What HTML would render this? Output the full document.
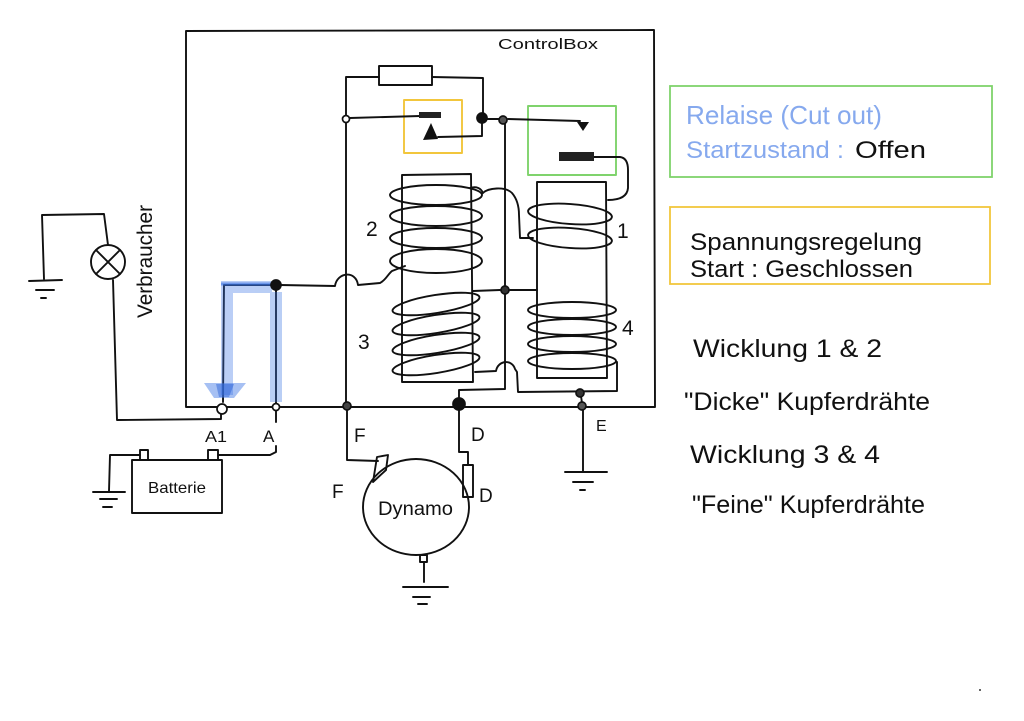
<!DOCTYPE html>
<html><head><meta charset="utf-8"><style>
html,body{margin:0;padding:0;background:#fff;}
svg{display:block;}
text{font-family:"Liberation Sans",sans-serif;}
</style></head><body>
<svg width="1024" height="721" viewBox="0 0 1024 721" xmlns="http://www.w3.org/2000/svg">
<rect width="1024" height="721" fill="#fff"/>
<g fill="none" stroke="#111" stroke-width="1.9" stroke-linecap="round" stroke-linejoin="round">
<!-- control box -->
<path d="M186 31 L654 30 L655 407 L186 407 Z"/>
<!-- resistor -->
<rect x="379" y="66" width="53" height="19"/>
<path d="M346 407 L346 77 L379 77"/>
<path d="M432 77 L483 78 L483 114"/>
<!-- yellow box -->
<rect x="404" y="100" width="58" height="53" stroke="#f2c63c"/>
<path d="M350 118 L420 116"/>
<path d="M438 137 L482 136 L482 122"/>
<!-- green box -->
<rect x="528" y="106" width="88" height="69" stroke="#7fd36c"/>
<path d="M487 119 L499 119"/>
<path d="M508 119 L580 121"/>
<path d="M594 157 L620 157 Q628 158 628 170 L628 188 Q627 200 608 200"/>
<!-- middle vertical -->
<path d="M505 123 L505 389 L459 390 L459 400"/>
<!-- coils -->
<path d="M402 175 L471 174 L473 382 L402 382 Z"/>
<path d="M537 182 L606 182 L607 378 L537 378 Z"/>
<ellipse cx="436" cy="195" rx="46" ry="10"/>
<ellipse cx="436" cy="216" rx="46" ry="10"/>
<ellipse cx="436" cy="238" rx="46" ry="10"/>
<ellipse cx="436" cy="261" rx="46" ry="12"/>
<ellipse cx="436" cy="304" rx="44" ry="9" transform="rotate(-9 436 304)"/>
<ellipse cx="436" cy="324" rx="44" ry="9" transform="rotate(-9 436 324)"/>
<ellipse cx="436" cy="344" rx="44" ry="9" transform="rotate(-9 436 344)"/>
<ellipse cx="436" cy="364" rx="44" ry="9" transform="rotate(-9 436 364)"/>
<ellipse cx="570" cy="214" rx="42" ry="10" transform="rotate(4 570 214)"/>
<ellipse cx="570" cy="238" rx="42" ry="10" transform="rotate(4 570 238)"/>
<ellipse cx="572" cy="310" rx="44" ry="8"/>
<ellipse cx="572" cy="327" rx="44" ry="8"/>
<ellipse cx="572" cy="344" rx="44" ry="8"/>
<ellipse cx="572" cy="361" rx="44" ry="8"/>
<!-- coil connections -->
<path d="M470 188 C476 186 481 188 483 193 C488 188 505 186 512 193 C518 200 519 208 519 215 L520 238 L533 238"/>
<path d="M473 291 L500 290"/>
<path d="M510 290 L537 290"/>
<path d="M475 372 L496 371 C498 360 512 359 515 369 L517 372 L518 392 L617 391 L617 362"/>
<path d="M581 396 L582 403"/>
<!-- A wire -->
<path d="M280 285 L335 286 C337 272 356 270 358 285 L380 283 C386 280 388 274 392 271 L405 266"/>
<!-- highlight lines -->
<path d="M224 285 L274 285"/>
<path d="M224 285 L223 402"/>
<path d="M276 287 L276 403"/>
<!-- lamp circuit -->
<path d="M221 414 L221 419 L117 420 L113 280"/>
<circle cx="108" cy="262" r="17"/>
<path d="M96 250 L120 274 M120 250 L96 274"/>
<path d="M108 245 L104 214 L42 215 L44 279"/>
<path d="M29 281 L62 280 M36 290 L54 290 M41 298 L46 298"/>
<!-- battery -->
<path d="M276 411 L276 422 M276 446 L276 452 L270 455 L218 455"/>
<rect x="132" y="460" width="90" height="53"/>
<rect x="208" y="450" width="10" height="10"/>
<rect x="140" y="450" width="8" height="10"/>
<path d="M140 455 L110 455 L109 491"/>
<path d="M93 492 L125 492 M100 499 L117 499 M103 507 L112 507"/>
<!-- dynamo -->
<path d="M347 410 L347 460 L378 461"/>
<polygon points="377,457 388,455 386,470 373,482"/>
<ellipse cx="416" cy="507" rx="53" ry="48"/>
<path d="M459 410 L459 452 L468 452 L468 465"/>
<rect x="463" y="465" width="10" height="32"/>
<rect x="420" y="555" width="7" height="7"/>
<path d="M424 562 L424 582"/>
<path d="M403 587 L448 587 M413 597 L430 597 M418 604 L427 604"/>
<!-- E ground -->
<path d="M583 410 L583 472"/>
<path d="M565 472 L607 472 M573 482 L593 482 M580 490 L585 490"/>
</g>
<!-- blue highlight -->
<g opacity="0.35" fill="none" stroke="#3a74e4" stroke-width="12">
<path d="M227 395 L227 287 L272 287"/>
<path d="M276 292 L276 402"/>
</g>
<path d="M221 284 L276 284" stroke="#3a74e4" stroke-width="3" opacity="0.6"/>
<polygon points="204,383 246,383 234,398 214,398" fill="#3a74e4" opacity="0.45"/>
<polygon points="216,384 234,384 229,397 219,397" fill="#2f66d8" opacity="0.5"/>
<!-- contacts -->
<rect x="419" y="112" width="22" height="6" fill="#222"/>
<polygon points="423,140 431,123 438,139" fill="#111"/>
<polygon points="577,122 589,122 583,131" fill="#111"/>
<rect x="559" y="152" width="35" height="9" fill="#222"/>
<!-- nodes -->
<g stroke="#111" stroke-width="1.7">
<circle cx="346" cy="119" r="3.5" fill="#fff"/>
<circle cx="482" cy="118" r="5" fill="#111"/>
<circle cx="503" cy="120" r="4" fill="#555"/>
<circle cx="505" cy="290" r="4" fill="#333"/>
<circle cx="276" cy="285" r="5" fill="#111"/>
<circle cx="222" cy="409" r="5" fill="#fff"/>
<circle cx="276" cy="407" r="3.5" fill="#fff"/>
<circle cx="347" cy="406" r="4" fill="#444"/>
<circle cx="459" cy="404" r="6" fill="#111"/>
<circle cx="582" cy="406" r="4" fill="#555"/>
<circle cx="580" cy="393" r="4" fill="#333"/>
</g>
<!-- labels -->
<g fill="#111">
<text x="498" y="49" font-size="15" textLength="100" lengthAdjust="spacingAndGlyphs">ControlBox</text>
<text x="366" y="236" font-size="21">2</text>
<text x="358" y="349" font-size="21">3</text>
<text x="617" y="238" font-size="21">1</text>
<text x="622" y="335" font-size="21">4</text>
<text transform="translate(152,318) rotate(-90)" font-size="21" textLength="113" lengthAdjust="spacingAndGlyphs">Verbraucher</text>
<text x="205" y="442" font-size="16" textLength="22" lengthAdjust="spacingAndGlyphs">A1</text>
<text x="263" y="442" font-size="17">A</text>
<text x="148" y="493" font-size="16" textLength="58" lengthAdjust="spacingAndGlyphs">Batterie</text>
<text x="354" y="442" font-size="19">F</text>
<text x="332" y="498" font-size="19">F</text>
<text x="471" y="441" font-size="19">D</text>
<text x="479" y="502" font-size="19">D</text>
<text x="596" y="431" font-size="16">E</text>
<text x="378" y="515" font-size="19" textLength="75" lengthAdjust="spacingAndGlyphs">Dynamo</text>
</g>
<!-- right side notes -->
<rect x="670" y="86" width="322" height="91" fill="none" stroke="#7fd36c" stroke-width="1.8"/>
<text x="686" y="124" font-size="26" fill="#86a9ee" textLength="196" lengthAdjust="spacingAndGlyphs">Relaise (Cut out)</text>
<text x="686" y="158" font-size="24" fill="#86a9ee" textLength="158" lengthAdjust="spacingAndGlyphs">Startzustand :</text>
<text x="855" y="158" font-size="24" fill="#111" textLength="71" lengthAdjust="spacingAndGlyphs">Offen</text>
<rect x="670" y="207" width="320" height="77" fill="none" stroke="#f2c63c" stroke-width="1.8"/>
<text x="690" y="250" font-size="24" fill="#111" textLength="232" lengthAdjust="spacingAndGlyphs">Spannungsregelung</text>
<text x="690" y="277" font-size="24" fill="#111" textLength="223" lengthAdjust="spacingAndGlyphs">Start : Geschlossen</text>
<text x="693" y="357" font-size="25" fill="#111" textLength="189" lengthAdjust="spacingAndGlyphs">Wicklung 1 &amp; 2</text>
<text x="684" y="410" font-size="25" fill="#111" textLength="246" lengthAdjust="spacingAndGlyphs">"Dicke" Kupferdrähte</text>
<text x="690" y="463" font-size="25" fill="#111" textLength="190" lengthAdjust="spacingAndGlyphs">Wicklung 3 &amp; 4</text>
<text x="692" y="513" font-size="25" fill="#111" textLength="233" lengthAdjust="spacingAndGlyphs">"Feine" Kupferdrähte</text>
<circle cx="980" cy="690" r="1" fill="#333"/>
</svg>
</body></html>
